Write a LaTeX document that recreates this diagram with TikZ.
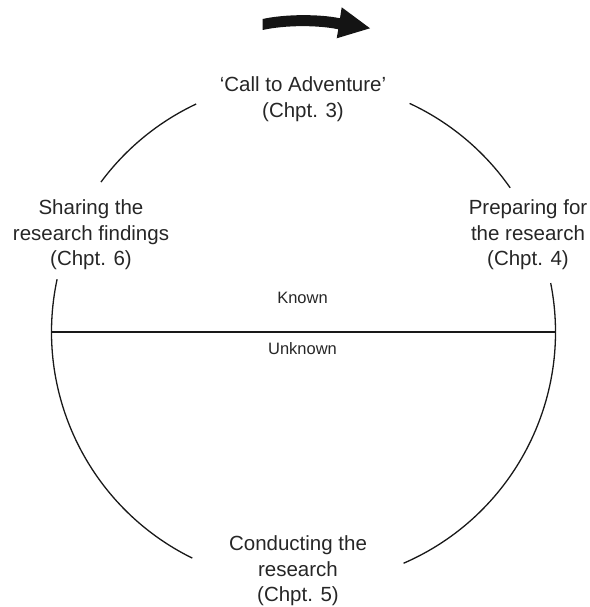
\documentclass[tikz,border=0pt]{standalone}
\usepackage{fontspec}
\setmainfont{Liberation Sans}
\usetikzlibrary{calc}
\begin{document}
\begin{tikzpicture}[x=1pt,y=1pt,
  arcline/.style={line width=1.3pt,black!90},
  lab/.style={align=center,font=\fontsize{20.5}{25.5}\selectfont,text=black!85,inner sep=0pt},
  small/.style={font=\fontsize{16.5}{20}\selectfont,text=black!85,inner sep=0pt}]
\useasboundingbox (0,0) rectangle (589,607);
\coordinate (c) at (303.5,275);
\def\R{252}
% circle arcs
\draw[arcline] ($(c)+(115.2:\R)$) arc[start angle=115.2, end angle=143.5, radius=\R];
\draw[arcline] ($(c)+(65.1:\R)$) arc[start angle=65.1, end angle=34.9, radius=\R];
\draw[arcline] ($(c)+(167.9:\R)$) arc[start angle=167.9, end angle=243.8, radius=\R];
\draw[arcline] ($(c)+(11.2:\R)$) arc[start angle=11.2, end angle=-66.6, radius=\R];
% dividing line
\coordinate (w) at ($(c)+(180:\R)$);
\coordinate (e) at ($(c)+(0:\R)$);
\draw[line width=1.1pt,black!90] (w) -- (e);
% labels
\node[lab] (top) at (303,508) {`Call to Adventure'\\(Chpt. 3)};
\node[lab] (right) at (528,372) {Preparing for\\the research\\(Chpt. 4)};
\node[lab] (left) at (91,372) {Sharing the\\research findings\\(Chpt. 6)};
\node[lab] (bottom) at (298,36) {Conducting the\\research\\(Chpt. 5)};
\node[small] (known) at (302.5,309) {Known};
\node[small] (unknown) at (302.5,258) {Unknown};
% direction arrow
\fill[black!92] (262.7,588) .. controls (285,593) and (320,593) .. (340,588.7)
  -- (341.7,599.7) -- (370,578.7) -- (336.7,568.7) -- (338.3,577.7)
  .. controls (318,582) and (285,582) .. (262.7,577) -- cycle;
\end{tikzpicture}
\end{document}
